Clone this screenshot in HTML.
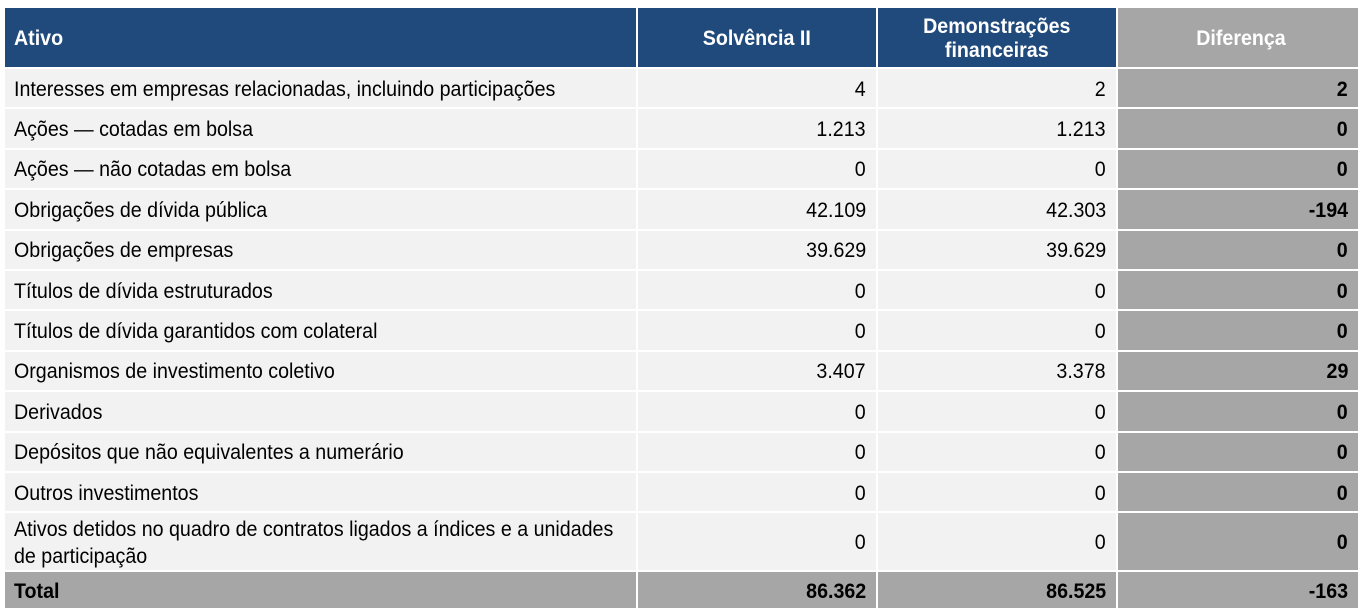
<!DOCTYPE html>
<html><head><meta charset="utf-8"><style>
html,body{margin:0;padding:0;background:#fff;width:1362px;height:612px;overflow:hidden}
table{position:absolute;left:3px;top:6px;width:1357px;border-collapse:separate;border-spacing:2px;table-layout:fixed;font-family:"Liberation Sans",Arial,sans-serif;font-size:21px;color:#000}
td,th{padding:3px 10px 0 9px;overflow:hidden;white-space:nowrap;line-height:24px}
th{background:#204a7c;color:#fff;font-weight:bold;height:56px;line-height:24px}
th.d{background:#a6a6a6}
td{background:#f2f2f2;height:35.4px}
td.n{text-align:right}
td.d{background:#a6a6a6;font-weight:bold;text-align:right}
tr.t td{background:#a6a6a6;font-weight:bold;height:33px}
.s{display:inline-block;transform:scaleX(0.935)}
.l .s{transform-origin:left center}
.n .s,.d .s{transform-origin:right center}
th .s{transform-origin:center}
td.w{height:52px;line-height:27px}
</style></head><body>
<table>
<colgroup><col style="width:631px"><col style="width:238px"><col style="width:238px"><col style="width:240px"></colgroup>
<thead><tr>
<th style="text-align:left"><span class="s" style="transform-origin:left center">Ativo</span></th>
<th><span class="s">Solvência II</span></th>
<th><span class="s">Demonstrações<br>financeiras</span></th>
<th class="d"><span class="s">Diferença</span></th>
</tr></thead>
<tbody id="tb"></tbody>
</table>
<script>
const labels=["Interesses em empresas relacionadas, incluindo participações","Ações — cotadas em bolsa","Ações — não cotadas em bolsa","Obrigações de dívida pública","Obrigações de empresas","Títulos de dívida estruturados","Títulos de dívida garantidos com colateral","Organismos de investimento coletivo","Derivados","Depósitos que não equivalentes a numerário","Outros investimentos","Ativos detidos no quadro de contratos ligados a índices e a unidades de participação","Total"];
const solv=["4","1.213","0","42.109","39.629","0","0","3.407","0","0","0","0","86.362"];
const demo=["2","1.213","0","42.303","39.629","0","0","3.378","0","0","0","0","86.525"];
const diff=["2","0","0","-194","0","0","0","29","0","0","0","0","-163"];
const tb=document.getElementById('tb');
labels.forEach((lab,i)=>{
  const tr=document.createElement('tr');
  
  
  if(i===labels.length-1)tr.className='t';
  const c1=document.createElement('td');c1.className='l';
  if(i===11){c1.classList.add('w');c1.innerHTML='<span class="s">Ativos detidos no quadro de contratos ligados a índices e a unidades<br>de participação</span>';}
  else c1.innerHTML='<span class="s">'+lab+'</span>';
  
  
  const c2=document.createElement('td');c2.className='n';c2.innerHTML='<span class="s">'+solv[i]+'</span>';
  
  
  const c3=document.createElement('td');c3.className='n';c3.innerHTML='<span class="s">'+demo[i]+'</span>';
  
  
  const c4=document.createElement('td');c4.className='d';c4.innerHTML='<span class="s">'+diff[i]+'</span>';
  
  
  tr.append(c1,c2,c3,c4);tb.appendChild(tr);
});
</script>
</body></html>
